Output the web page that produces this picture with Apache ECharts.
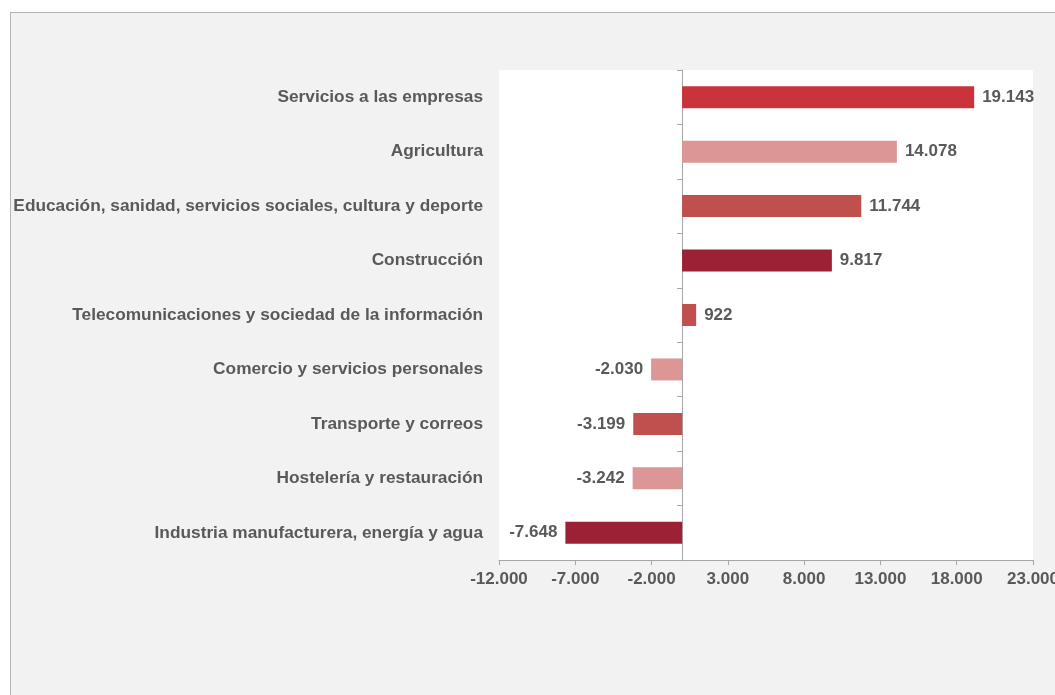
<!DOCTYPE html>
<html>
<head>
<meta charset="utf-8">
<script src="https://cdn.jsdelivr.net/npm/echarts@6/dist/echarts.min.js"></script>
<style>
html,body{margin:0;padding:0;background:#fff;width:1055px;height:695px;overflow:hidden;}
#bg{position:absolute;left:10px;top:12px;width:1100px;height:700px;background:#f2f2f2;border-top:1.5px solid #b4b4b4;border-left:1.5px solid #b4b4b4;}
#chart{position:absolute;left:0;top:0;width:1055px;height:695px;}
</style>
</head>
<body>
<div id="bg"></div>
<div id="chart"></div>
<script>
const categories = [
  "Servicios a las empresas",
  "Agricultura",
  "Educación, sanidad, servicios sociales, cultura y deporte",
  "Construcción",
  "Telecomunicaciones y sociedad de la información",
  "Comercio y servicios personales",
  "Transporte y correos",
  "Hostelería y restauración",
  "Industria manufacturera, energía y agua"
];
const values = [19143, 14078, 11744, 9817, 922, -2030, -3199, -3242, -7648];
const barColors = ["#cb333c", "#db9695", "#c0504d", "#9c2135", "#c0504d", "#db9695", "#c0504d", "#db9695", "#9c2135"];
const axisMin = -12000, axisMax = 23000, axisStep = 5000;

function fmt(v){
  const s = Math.abs(Math.round(v)).toString().replace(/\B(?=(\d{3})+(?!\d))/g, ".");
  return (v < 0 ? "-" : "") + s;
}

const FONT = 'Arial, "Liberation Sans", sans-serif';
const TXT = '#595959';
const AX = '#a6a6a6';
const FS = 17;

const chart = echarts.init(document.getElementById('chart'), null, {renderer:'canvas'});
chart.setOption({
  backgroundColor: 'transparent',
  animation: false,
  grid: {left: 499, right: 22, top: 70, bottom: 135, show: true, backgroundColor: '#ffffff', borderWidth: 0, containLabel: false, outerBoundsMode: 'none'},
  xAxis: {
    type: 'value', min: axisMin, max: axisMax, interval: axisStep,
    axisLine: {show: true, lineStyle: {color: AX, width: 1}},
    axisTick: {show: true, length: 5, lineStyle: {color: AX}},
    splitLine: {show: false},
    axisLabel: {color: TXT, fontFamily: FONT, fontWeight: 'bold', fontSize: FS, margin: 11, formatter: fmt, hideOverlap: false}
  },
  yAxis: [
    {
      type: 'category', data: categories, inverse: true, position: 'left',
      axisLine: {show: false, onZero: false}, axisTick: {show: false},
      axisLabel: {color: TXT, fontFamily: FONT, fontWeight: 'bold', fontSize: 17.3, margin: 16}
    },
    {
      type: 'category', data: categories, inverse: true, position: 'left',
      axisLine: {show: true, onZero: true, lineStyle: {color: AX, width: 1}},
      axisTick: {show: true, length: 5, lineStyle: {color: AX}},
      axisLabel: {show: false}
    }
  ],
  series: [{
    type: 'bar', yAxisIndex: 0, barWidth: 22,
    data: values.map((v, i) => ({
      value: v,
      itemStyle: {color: barColors[i]},
      label: {position: v >= 0 ? 'right' : 'left'}
    })),
    label: {show: true, distance: 8, color: TXT, fontFamily: FONT, fontWeight: 'bold', fontSize: FS, formatter: p => fmt(p.value)}
  }]
});
</script>
</body>
</html>
